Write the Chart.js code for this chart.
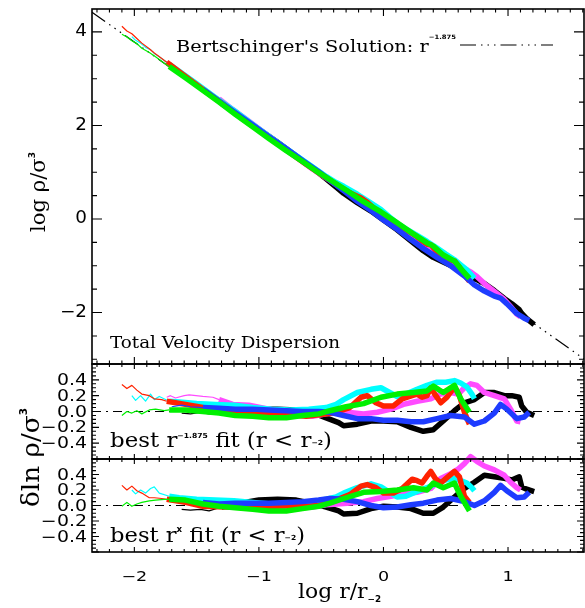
<!DOCTYPE html>
<html>
<head>
<meta charset="utf-8">
<script src="https://cdn.jsdelivr.net/npm/chart.js@4.4.1/dist/chart.umd.min.js"></script>
<style>
html, body { margin: 0; padding: 0; background: #fff; }
#wrap { position: relative; width: 585px; height: 608px; }
#wrap canvas { position: absolute; left: 0; top: 0; }
</style>
</head>
<body>
<div id="wrap">
  <canvas id="top" width="585" height="608"></canvas>
  <canvas id="mid" width="585" height="608"></canvas>
  <canvas id="bot" width="585" height="608"></canvas>
</div>
<script>
// log r/r_-2 bins per halo, then log rho/sigma^3, residual vs r^-1.875 fit, residual vs r^x fit
const blackX = [-1.62,-1.55,-1.47,-1.40,-1.30,-1.15,-1.00,-0.85,-0.70,-0.58,-0.46,-0.36,-0.32,-0.21,-0.10,0.00,0.11,0.22,0.32,0.40,0.48,0.57,0.65,0.73,0.81,0.89,0.97,1.03,1.09,1.11,1.15,1.21];
const blackTop = [3.06,2.92,2.78,2.64,2.47,2.20,1.92,1.64,1.35,1.11,0.86,0.64,0.55,0.35,0.17,-0.02,-0.23,-0.47,-0.68,-0.82,-0.92,-1.03,-1.14,-1.27,-1.38,-1.53,-1.70,-1.81,-1.94,-2.02,-2.13,-2.26];
const blackFix = [-0.02,-0.03,-0.01,-0.03,0.00,0.02,0.03,0.03,0.02,-0.01,-0.08,-0.14,-0.18,-0.16,-0.12,-0.12,-0.13,-0.20,-0.25,-0.23,-0.12,0.01,0.11,0.15,0.24,0.24,0.20,0.20,0.18,0.07,-0.01,-0.05];
const blackFree = [-0.05,-0.06,-0.05,-0.07,-0.02,0.03,0.07,0.08,0.07,0.03,-0.02,-0.07,-0.11,-0.10,-0.04,-0.01,-0.02,-0.04,-0.10,-0.10,-0.02,0.11,0.22,0.30,0.39,0.37,0.35,0.33,0.37,0.24,0.21,0.18];

const magentaX = [-1.74,-1.71,-1.67,-1.60,-1.56,-1.45,-1.37,-1.32,-1.21,-1.08,-0.95,-0.81,-0.68,-0.57,-0.46,-0.29,-0.16,-0.05,0.06,0.16,0.27,0.38,0.46,0.54,0.60,0.65,0.70,0.75,0.81,0.89,0.97,1.02,1.07,1.10];
const magentaTop = [3.37,3.32,3.24,3.12,3.05,2.83,2.68,2.57,2.34,2.09,1.83,1.55,1.28,1.07,0.88,0.57,0.32,0.12,-0.07,-0.23,-0.42,-0.61,-0.74,-0.88,-1.00,-1.06,-1.13,-1.23,-1.38,-1.55,-1.72,-1.87,-2.03,-2.09];
const magentaFix = [0.18,0.20,0.17,0.20,0.21,0.19,0.18,0.15,0.09,0.08,0.04,0.00,-0.05,-0.06,-0.03,-0.01,-0.03,-0.01,0.03,0.09,0.13,0.16,0.22,0.24,0.22,0.30,0.35,0.33,0.24,0.20,0.16,0.03,-0.12,-0.13];
const magentaFree = [0.08,0.08,0.07,0.08,0.08,0.07,0.07,0.06,0.04,0.02,0.00,-0.03,-0.03,-0.02,0.01,0.03,0.05,0.09,0.12,0.15,0.17,0.22,0.35,0.41,0.47,0.54,0.63,0.57,0.51,0.46,0.39,0.30,0.23,0.20];

const cyanX = [-2.02,-1.99,-1.95,-1.91,-1.87,-1.84,-1.80,-1.72,-1.64,-1.50,-1.35,-1.20,-1.05,-0.90,-0.75,-0.60,-0.46,-0.38,-0.32,-0.21,-0.10,-0.02,0.05,0.11,0.18,0.27,0.35,0.43,0.50,0.57,0.62,0.67,0.71,0.73];
const cyanTop = [3.90,3.82,3.76,3.67,3.62,3.54,3.47,3.31,3.16,2.89,2.60,2.32,2.02,1.73,1.45,1.17,0.91,0.78,0.70,0.53,0.34,0.20,0.04,-0.09,-0.21,-0.35,-0.48,-0.62,-0.75,-0.87,-0.98,-1.09,-1.21,-1.27];
const cyanFix = [0.20,0.14,0.20,0.13,0.22,0.15,0.19,0.13,0.12,0.10,0.09,0.08,0.05,0.03,0.02,0.03,0.05,0.09,0.15,0.24,0.28,0.30,0.24,0.19,0.22,0.28,0.33,0.37,0.37,0.39,0.36,0.31,0.22,0.16];
const cyanFree = [0.20,0.15,0.20,0.16,0.22,0.24,0.16,0.12,0.10,0.08,0.07,0.06,0.04,0.02,0.02,0.04,0.08,0.11,0.16,0.23,0.28,0.24,0.17,0.11,0.12,0.18,0.23,0.29,0.33,0.35,0.32,0.29,0.23,0.19];

const redX = [-2.10,-2.06,-2.02,-1.98,-1.94,-1.88,-1.84,-1.78,-1.74,-1.59,-1.45,-1.27,-1.13,-1.00,-0.87,-0.73,-0.62,-0.52,-0.41,-0.27,-0.18,-0.13,-0.06,0.00,0.08,0.15,0.23,0.27,0.31,0.35,0.38,0.42,0.46,0.51,0.57,0.61,0.65,0.69];
const redTop = [4.12,4.02,3.96,3.86,3.76,3.64,3.55,3.43,3.35,3.05,2.77,2.42,2.14,1.90,1.65,1.38,1.17,0.99,0.79,0.56,0.45,0.36,0.19,0.06,-0.09,-0.18,-0.31,-0.38,-0.47,-0.54,-0.55,-0.67,-0.78,-0.85,-0.90,-1.03,-1.19,-1.33];
const redFix = [0.34,0.29,0.33,0.27,0.22,0.20,0.16,0.15,0.13,0.09,0.05,0.01,-0.01,-0.02,-0.03,-0.04,-0.06,-0.04,-0.02,0.05,0.18,0.20,0.11,0.07,0.07,0.16,0.20,0.22,0.18,0.20,0.30,0.20,0.11,0.18,0.31,0.20,-0.01,-0.16];
const redFree = [0.26,0.20,0.25,0.19,0.16,0.10,0.10,0.09,0.08,0.04,-0.01,-0.02,-0.02,-0.01,-0.01,0.00,-0.01,0.00,0.05,0.14,0.25,0.27,0.23,0.16,0.16,0.22,0.34,0.32,0.29,0.38,0.44,0.34,0.29,0.36,0.44,0.37,0.12,0.04];

const blueX = [-1.70,-1.62,-1.55,-1.45,-1.32,-1.19,-1.05,-0.92,-0.78,-0.65,-0.52,-0.43,-0.32,-0.21,-0.10,0.00,0.11,0.22,0.32,0.43,0.54,0.65,0.73,0.81,0.89,0.94,0.99,1.07,1.13,1.17];
const blueTop = [3.24,3.10,2.96,2.77,2.52,2.27,2.01,1.76,1.50,1.25,1.01,0.83,0.61,0.38,0.18,-0.02,-0.22,-0.44,-0.63,-0.82,-1.00,-1.22,-1.41,-1.54,-1.65,-1.69,-1.81,-2.02,-2.12,-2.17];
const blueFix = [0.06,0.08,0.06,0.05,0.04,0.03,0.03,0.02,0.01,0.00,0.00,-0.01,-0.05,-0.09,-0.09,-0.11,-0.11,-0.13,-0.13,-0.09,-0.05,-0.07,-0.16,-0.12,-0.02,0.09,0.03,-0.09,-0.07,-0.01];
const blueFree = [0.06,0.07,0.05,0.04,0.02,0.03,0.03,0.03,0.04,0.05,0.07,0.09,0.08,0.05,0.00,-0.03,-0.02,0.01,0.03,0.07,0.09,0.05,0.00,0.06,0.17,0.26,0.19,0.10,0.11,0.17];

const greenX = [-2.10,-2.06,-2.02,-1.98,-1.94,-1.88,-1.83,-1.76,-1.72,-1.59,-1.45,-1.32,-1.19,-1.05,-0.92,-0.78,-0.65,-0.52,-0.43,-0.30,-0.16,-0.02,0.11,0.24,0.35,0.40,0.48,0.57,0.62,0.69];
const greenTop = [3.95,3.89,3.81,3.75,3.65,3.56,3.47,3.33,3.26,3.02,2.75,2.50,2.24,1.97,1.72,1.46,1.23,0.99,0.84,0.62,0.37,0.15,-0.08,-0.32,-0.51,-0.58,-0.77,-0.90,-1.06,-1.27];
const greenFix = [-0.05,0.00,-0.02,0.01,-0.03,0.02,0.03,0.01,0.02,0.02,0.00,-0.02,-0.05,-0.06,-0.08,-0.08,-0.05,-0.03,0.01,0.06,0.10,0.18,0.22,0.24,0.26,0.32,0.24,0.33,0.16,-0.01];
const greenFree = [-0.01,0.04,-0.01,0.02,0.04,0.06,0.07,0.08,0.08,0.07,0.02,-0.01,-0.03,-0.05,-0.07,-0.07,-0.04,-0.01,0.03,0.10,0.17,0.18,0.20,0.23,0.20,0.29,0.23,0.29,0.12,-0.07];

// Bertschinger r^-1.875 reference line and zero lines
const bertX = [-2.34, 1.61];
const bertY = [4.42, -2.99];
const zeroX = [-2.34, 1.61];
const zeroY = [0, 0];

// ticks
const xTicks = [-2, -1, 0, 1];
const xTickLabels = ['\u22122', '\u22121', '0', '1'];
const topTicks = [4, 2, 0, -2];
const topTickLabels = ['4', '2', '0', '\u22122'];
const resTicks = [0.4, 0.2, 0, -0.2, -0.4];
const resTickLabels = ['0.4', '0.2', '0.0', '\u22120.2', '\u22120.4'];

const SANS = '"DejaVu Sans", sans-serif';
const SERIF = '"DejaVu Serif", serif';

// thin line up to thickFrom, thick afterwards; order: lower is drawn on top
const halos = [
  { x: blackX, top: blackTop, fix: blackFix, free: blackFree, color: '#000000', thickFrom: -1.30, order: 6 },
  { x: magentaX, top: magentaTop, fix: magentaFix, free: magentaFree, color: '#ff4cff', thickFrom: -1.32, order: 5 },
  { x: cyanX, top: cyanTop, fix: cyanFix, free: cyanFree, color: '#00ffff', thickFrom: -1.72, order: 4 },
  { x: redX, top: redTop, fix: redFix, free: redFree, color: '#ff2200', thickFrom: -1.74, order: 3 },
  { x: blueX, top: blueTop, fix: blueFix, free: blueFree, color: '#1e3cff', thickFrom: -1.45, order: 2 },
  { x: greenX, top: greenTop, fix: greenFix, free: greenFree, color: '#00f000', thickFrom: -1.72, order: 1 }
];

function pts(xs, ys) {
  return xs.map((x, i) => ({ x: x, y: ys[i] }));
}

function haloSets(key, clip) {
  return halos.map(h => ({
    data: pts(h.x, h[key]),
    borderColor: h.color,
    borderWidth: 1.2,
    order: h.order,
    clip: clip,
    segment: {
      borderWidth: c => c.p0.parsed.x < h.thickFrom - 1e-6 ? 1.2 : 5.5
    }
  }));
}

// draw a run of text pieces (for super/subscripts), stretched to a width
function drawRuns(ctx, runs, x, y, width, rotate) {
  ctx.save();
  ctx.translate(x, y);
  if (rotate) ctx.rotate(-Math.PI / 2);
  let total = 0;
  runs.forEach(r => { ctx.font = r.f; total += ctx.measureText(r.t).width; });
  ctx.scale(width ? width / total : 1, 1);
  ctx.fillStyle = '#000';
  ctx.textAlign = 'left';
  ctx.textBaseline = 'alphabetic';
  let cx = 0;
  runs.forEach(r => {
    ctx.font = r.f;
    ctx.fillText(r.t, cx, r.dy || 0);
    cx += ctx.measureText(r.t).width;
  });
  ctx.restore();
}

function tickText(ctx, text, x, y, size, sx, align, base) {
  ctx.save();
  ctx.translate(x, y);
  ctx.scale(sx, 1);
  ctx.font = size + 'px ' + SANS;
  ctx.fillStyle = '#000';
  ctx.textAlign = align;
  ctx.textBaseline = base || 'middle';
  ctx.fillText(text, 0, 0);
  ctx.restore();
}

function framePlugin(p) {
  return {
    id: 'frame',
    afterDatasetsDraw(chart) {
      const ctx = chart.ctx, a = chart.chartArea;
      const xs = chart.scales.x, ys = chart.scales.y;
      ctx.save();
      ctx.strokeStyle = '#000';
      ctx.lineWidth = 1.1;
      ctx.setLineDash([]);
      ctx.beginPath();
      for (let i = Math.ceil(xs.min * 10); i <= Math.floor(xs.max * 10); i++) {
        const px = xs.getPixelForValue(i / 10);
        const len = i % 10 === 0 ? p.xMajor : p.xMinor;
        ctx.moveTo(px, a.bottom); ctx.lineTo(px, a.bottom - len);
        ctx.moveTo(px, a.top); ctx.lineTo(px, a.top + len);
      }
      const n0 = Math.ceil(ys.min / p.yStep - 1e-6), n1 = Math.floor(ys.max / p.yStep + 1e-6);
      for (let i = n0; i <= n1; i++) {
        const py = ys.getPixelForValue(i * p.yStep);
        const len = i % p.yEvery === 0 ? p.yMajor : p.yMinor;
        ctx.moveTo(a.left, py); ctx.lineTo(a.left + len, py);
        ctx.moveTo(a.right, py); ctx.lineTo(a.right - len, py);
      }
      ctx.stroke();
      ctx.lineWidth = 1.6;
      ctx.strokeRect(a.left, a.top, a.right - a.left, a.bottom - a.top);
      p.yTicks.forEach((v, i) => {
        tickText(ctx, p.yLabels[i], a.left - 5, ys.getPixelForValue(v) + p.yShift, p.yFont, p.ySx, 'right');
      });
      if (p.extra) p.extra(chart, ctx, a, xs, ys);
      ctx.restore();
    }
  };
}

function panel(id, pad, yMin, yMax, datasets, plugin) {
  return new Chart(document.getElementById(id), {
    type: 'line',
    data: { datasets: datasets },
    options: {
      responsive: false,
      animation: false,
      devicePixelRatio: 1,
      layout: { padding: pad },
      scales: {
        x: { type: 'linear', min: -2.34, max: 1.61, display: false },
        y: { type: 'linear', min: yMin, max: yMax, display: false }
      },
      plugins: { legend: { display: false }, tooltip: { enabled: false } },
      elements: {
        point: { radius: 0 },
        line: { tension: 0, borderJoinStyle: 'round', borderCapStyle: 'butt' }
      }
    },
    plugins: [plugin]
  });
}

const bertDash = [16, 5, 1.5, 5, 1.5, 5, 1.5, 5];
const zeroDash = [9, 5, 2, 5];

// top panel
panel('top', { left: 92, right: 1, top: 9, bottom: 244 }, -3.10, 4.49,
  [{ data: pts(bertX, bertY), borderColor: '#000', borderWidth: 1.2, borderDash: bertDash, order: 100 }]
    .concat(haloSets('top', 0)),
  framePlugin({
    xMajor: 7, xMinor: 3.5, yStep: 0.5, yEvery: 4, yMajor: 10, yMinor: 5,
    yTicks: topTicks, yLabels: topTickLabels, yFont: 17, ySx: 1.08, yShift: 0,
    extra(chart, ctx) {
      drawRuns(ctx, [
        { t: "Bertschinger's Solution: r", f: '17px ' + SERIF },
        { t: '\u22121.875', f: 'bold 6px ' + SANS, dy: -13 }
      ], 176, 52, 280);
      ctx.lineWidth = 1.2;
      ctx.setLineDash(bertDash);
      ctx.beginPath();
      ctx.moveTo(460, 45); ctx.lineTo(553, 45);
      ctx.stroke();
      ctx.setLineDash([]);
      drawRuns(ctx, [{ t: 'Total Velocity Dispersion', f: '17px ' + SERIF }], 110, 348, 230);
      drawRuns(ctx, [
        { t: 'log \u03c1/\u03c3', f: '21px ' + SERIF },
        { t: '3', f: 'bold 9px ' + SANS, dy: -10 }
      ], 45, 232, 80, true);
    }
  }));

// middle panel: residual from r^-1.875
panel('mid', { left: 92, right: 1, top: 364, bottom: 149 }, -0.6, 0.6,
  [{ data: pts(zeroX, zeroY), borderColor: '#000', borderWidth: 1.1, borderDash: zeroDash, order: 100 }]
    .concat(haloSets('fix', 0)),
  framePlugin({
    xMajor: 5, xMinor: 3, yStep: 0.05, yEvery: 4, yMajor: 7, yMinor: 4,
    yTicks: resTicks, yLabels: resTickLabels, yFont: 15.5, ySx: 1.22, yShift: 1,
    extra(chart, ctx) {
      drawRuns(ctx, [
        { t: 'best r', f: '21px ' + SERIF },
        { t: '\u22121.875', f: 'bold 7px ' + SANS, dy: -9 },
        { t: ' fit (r < r', f: '21px ' + SERIF },
        { t: '\u22122', f: 'bold 7px ' + SANS, dy: -2 },
        { t: ')', f: '21px ' + SERIF }
      ], 110, 447, 222);
    }
  }));

// bottom panel: residual from best power law
panel('bot', { left: 92, right: 1, top: 459, bottom: 56 }, -0.6, 0.6,
  [{ data: pts(zeroX, zeroY), borderColor: '#000', borderWidth: 1.1, borderDash: zeroDash, order: 100 }]
    .concat(haloSets('free', { left: 0, top: 6, right: 0, bottom: 0 })),
  framePlugin({
    xMajor: 5, xMinor: 3, yStep: 0.05, yEvery: 4, yMajor: 7, yMinor: 4,
    yTicks: resTicks, yLabels: resTickLabels, yFont: 15.5, ySx: 1.22, yShift: 1,
    extra(chart, ctx, a, xs) {
      drawRuns(ctx, [
        { t: 'best r', f: '21px ' + SERIF },
        { t: 'x', f: 'bold 8px ' + SANS, dy: -10 },
        { t: ' fit (r < r', f: '21px ' + SERIF },
        { t: '\u22122', f: 'bold 7px ' + SANS, dy: -2 },
        { t: ')', f: '21px ' + SERIF }
      ], 110, 542, 195);
      xTicks.forEach((v, i) => {
        tickText(ctx, xTickLabels[i], xs.getPixelForValue(v), 581, 13.5, 1.3, 'center', 'alphabetic');
      });
      drawRuns(ctx, [
        { t: 'log r/r', f: '20px ' + SERIF },
        { t: '\u22122', f: 'bold 8px ' + SANS, dy: 4 }
      ], 298, 598, 83);
      drawRuns(ctx, [
        { t: '\u03b4ln \u03c1/\u03c3', f: '25px ' + SERIF },
        { t: '3', f: 'bold 10px ' + SANS, dy: -12 }
      ], 39, 507, 99, true);
    }
  }));
</script>
</body>
</html>
